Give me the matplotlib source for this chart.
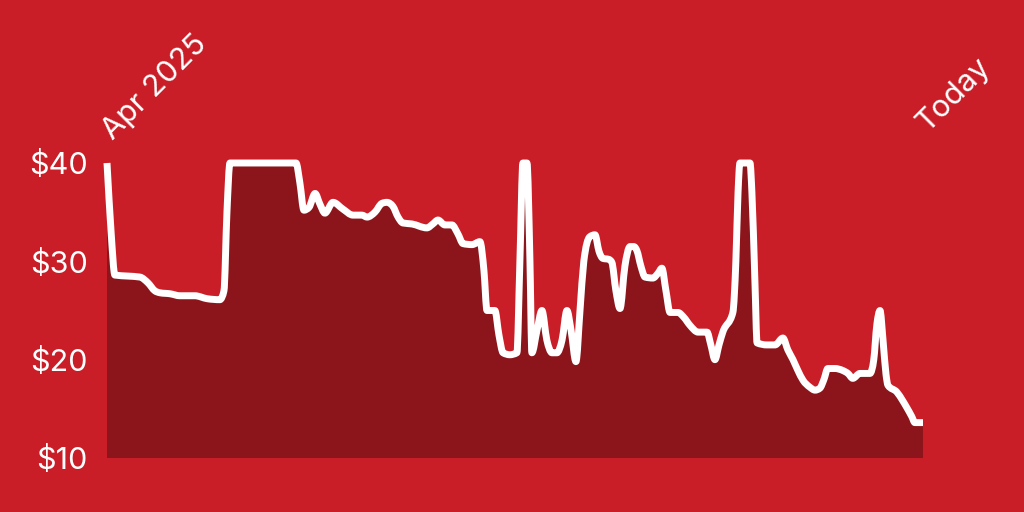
import numpy as np
import matplotlib.pyplot as plt
from matplotlib.path import Path
from matplotlib.patches import PathPatch

# price history; x = days since the start of Apr 2025
days = [0, 1.5, 2.9, 7.7, 12.1, 15.1, 17.6, 19.5, 23.2, 26.8, 32.3, 36.8,
        41.5, 43.0, 44.1, 45.2, 69.5, 70.9, 72.4, 74.3, 76.5, 78.3, 80.1,
        83.1, 86.8, 90.4, 93.7, 95.6, 98.5, 101.1, 102.9, 105.1, 107.0,
        108.8, 112.1, 117.6, 119.8, 121.7, 124.2, 126.8, 129.0, 130.9,
        134.2, 137.1, 138.6, 139.7, 142.6, 144.1, 145.6, 148.1, 150.7,
        151.8, 152.9, 154.4, 155.5, 156.2, 158.1, 159.9, 161.7, 163.6,
        165.4, 167.3, 169.1, 170.6, 172.4, 173.9, 175.3, 177.5, 179.4,
        180.9, 182.3, 184.5, 185.6, 187.1, 188.6, 190.4, 192.3, 193.7,
        194.8, 196.3, 197.8, 200.7, 202.6, 204.0, 205.5, 207.0, 209.9,
        212.1, 214.3, 217.3, 220.6, 222.0, 223.5, 225.0, 226.4, 230.1,
        231.2, 232.0, 232.7, 236.4, 237.1, 238.2, 239.0, 242.6, 245.6,
        248.5, 250.3, 252.2, 254.0, 255.9, 258.4, 260.3, 262.1, 263.6,
        265.0, 267.6, 270.5, 272.4, 274.2, 276.8, 280.5, 281.9, 283.0,
        284.2, 285.3, 286.4, 287.1, 290.4, 292.6, 294.1, 295.9, 297.0,
        300.0]
price = [40, 33, 28.6, 28.5, 28.4, 27.8, 27.0, 26.8, 26.7, 26.5, 26.5,
         26.2, 26.1, 27, 35, 40, 40, 38, 35.2, 35.5, 36.9, 35.8, 34.9,
         36.0, 35.3, 34.7, 34.7, 34.5, 35.0, 35.9, 36.0, 35.6, 34.5,
         33.9, 33.8, 33.4, 33.8, 34.2, 33.7, 33.7, 32.8, 31.8,
         31.7, 32.0, 29, 25.0, 25.0, 22.5, 20.7, 20.5, 20.7,
         30, 40, 40, 30, 20.7, 23, 25.0, 22, 20.7,
         20.7, 22, 25.0, 23, 19.8, 25, 30, 32.5, 32.7,
         31, 30.3, 30.2, 29.9, 27, 25.2, 29.5, 31.5, 31.5,
         31.1, 29.5, 28.4, 28.3, 28.8, 29.3, 27, 24.8, 24.8,
         24.3, 23.5, 22.8, 22.8, 21.5, 20.0, 21.5, 22.8, 24.8,
         30, 37, 40, 40, 37, 28, 21.7, 21.5, 21.5,
         22.2, 21, 20.0, 18.9, 17.9, 17.2, 16.9, 17.1, 18.0,
         19.1, 19.1, 18.9, 18.6, 18.1, 18.6, 18.6, 20, 23.5,
         25.0, 22, 18.5, 17.4, 16.7, 15.8, 15.1, 14.2, 13.6,
         13.6]

yticks = [10, 20, 30, 40]
ytick_labels = ["$10", "$20", "$30", "$40"]
start_label = "Apr 2025"
end_label = "Today"

bg = "#C91E27"
fill_col = "#8C151B"


# smooth monotone cubic (like d3 curveMonotoneX), as bezier path vertices
def monotone_verts(x, y):
    h = np.diff(x)
    s = np.diff(y) / h
    m = np.zeros(len(x))
    m[0], m[-1] = s[0], s[-1]
    for i in range(1, len(x) - 1):
        if s[i - 1] * s[i] <= 0:
            m[i] = 0
        else:
            p = (s[i - 1] * h[i] + s[i] * h[i - 1]) / (h[i - 1] + h[i])
            m[i] = np.sign(s[i]) * min(abs(s[i - 1]), abs(s[i]), 0.5 * abs(p)) * 2
    verts = [(x[0], y[0])]
    for i in range(len(x) - 1):
        d = h[i] / 3
        verts += [(x[i] + d, y[i] + m[i] * d),
                  (x[i + 1] - d, y[i + 1] - m[i + 1] * d),
                  (x[i + 1], y[i + 1])]
    return verts


plt.rcParams["font.family"] = ["Inter", "DejaVu Sans"]

fig = plt.figure(figsize=(10.24, 5.12), dpi=100, facecolor=bg)
ax = fig.add_axes([107 / 1024, 1 - 458 / 512, 816 / 1024, 295 / 512])
ax.set_facecolor(bg)

x = np.array(days, dtype=float)
y = np.array(price, dtype=float)
verts = monotone_verts(x, y)
codes = [Path.MOVETO] + [Path.CURVE4] * (len(verts) - 1)

fill_verts = verts + [(x[-1], 10), (x[0], 10), (x[0], y[0])]
fill_codes = codes + [Path.LINETO, Path.LINETO, Path.CLOSEPOLY]
ax.add_patch(PathPatch(Path(fill_verts, fill_codes), facecolor=fill_col,
                       edgecolor="none", lw=0))
ax.add_patch(PathPatch(Path(verts, codes), facecolor="none", edgecolor="white",
                       lw=5, joinstyle="round", capstyle="butt", clip_on=False))

ax.set_xlim(x[0], x[-1])
ax.set_ylim(10, 40)
ax.set_yticks(yticks)
ax.set_yticklabels(ytick_labels)
ax.set_xticks([])
ax.tick_params(axis="y", length=0, pad=14, labelsize=22, labelcolor="white")
for sp in ax.spines.values():
    sp.set_visible(False)

ax.annotate(start_label, xy=(x[0], 1), xycoords=("data", "axes fraction"),
            xytext=(6, 22), textcoords="offset pixels", rotation=45,
            rotation_mode="anchor", ha="left", va="baseline",
            color="white", fontsize=22)
ax.annotate(end_label, xy=(x[-1], 1), xycoords=("data", "axes fraction"),
            xytext=(4, 30), textcoords="offset pixels", rotation=45,
            rotation_mode="anchor", ha="left", va="baseline",
            color="white", fontsize=22)

fig.savefig("out.png", dpi=100, facecolor=bg)
